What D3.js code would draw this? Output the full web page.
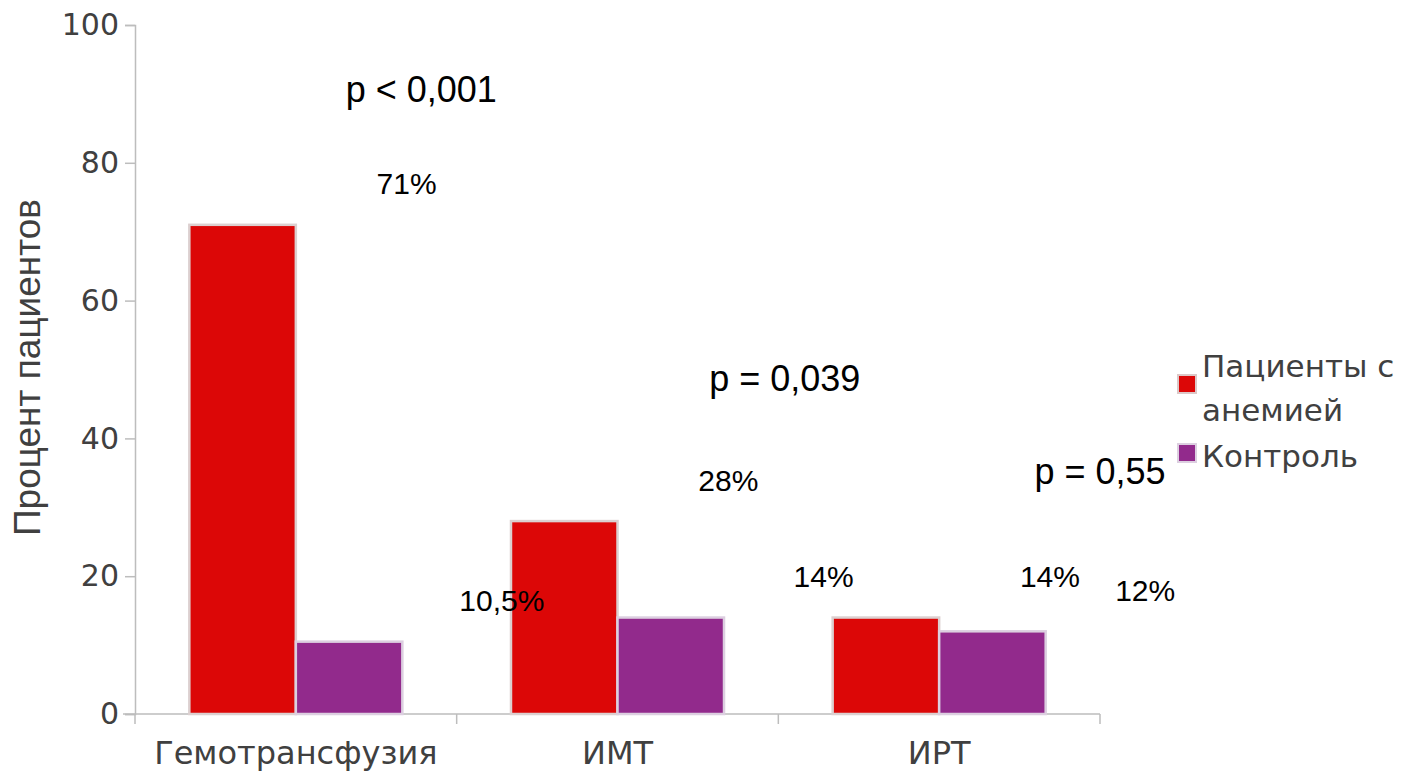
<!DOCTYPE html>
<html><head><meta charset="utf-8">
<script src="https://cdn.jsdelivr.net/npm/d3@7"></script>
<style>body{margin:0;background:#fff}svg{display:block}</style>
</head><body>
<script>
const categories = ["Гемотрансфузия", "ИМТ", "ИРТ"];
const seriesNames = ["Пациенты с анемией", "Контроль"];
const anemia = [71, 28, 14];
const control = [10.5, 14, 12];
const anemiaLabels = ["71%", "28%", "14%"];
const controlLabels = ["10,5%", "14%", "12%"];
const pLabels = ["p < 0,001", "p = 0,039", "p = 0,55"];
const pLabelLevels = [90.7, 48.8, 35.3];
const yTicks = [0, 20, 40, 60, 80, 100];
const colors = ["#dc0707", "#922a8c"];

const W = 1405, H = 771;
const svg = d3.select("body").append("svg").attr("width", W).attr("height", H);

const x = d3.scaleBand().domain(categories).range([135, 1100]);
const xs = d3.scaleBand().domain([0, 1]).range([0, x.bandwidth()]).paddingOuter(0.51);
const y = d3.scaleLinear().domain([0, 100]).range([714, 25]);
const axisColor = "#bdbdbd";

// Y axis
const yAxis = svg.append("g").attr("transform", "translate(135,0)")
  .call(d3.axisLeft(y).tickValues(yTicks).tickSize(10).tickPadding(6));
yAxis.select(".domain").attr("stroke", axisColor).attr("stroke-width", 1.5);
yAxis.selectAll(".tick line").attr("stroke", axisColor).attr("stroke-width", 1.5);
yAxis.selectAll(".tick text").attr("fill", "#404040")
  .style("font-family", "DejaVu Sans, Verdana, sans-serif").style("font-size", "30px");

// X axis
const xAxisG = svg.append("g").attr("transform", `translate(0,${y(0)})`);
xAxisG.append("line").attr("x1", 123).attr("x2", 1100).attr("y1", 0).attr("y2", 0)
  .attr("stroke", axisColor).attr("stroke-width", 1.5);
const bounds = categories.map(c => x(c)).concat([x(categories[2]) + x.bandwidth()]);
xAxisG.selectAll("line.tk").data(bounds).join("line").attr("class", "tk")
  .attr("x1", d => d).attr("x2", d => d).attr("y1", 0).attr("y2", 10)
  .attr("stroke", axisColor).attr("stroke-width", 1.5);
xAxisG.selectAll("text").data(categories).join("text")
  .attr("x", d => x(d) + x.bandwidth() / 2).attr("y", 50)
  .attr("text-anchor", "middle").attr("fill", "#404040")
  .style("font-family", "DejaVu Sans, Verdana, sans-serif").style("font-size", "32px")
  .text(d => d);

// Y title
svg.append("text").attr("transform", `translate(40,${(195 + 540) / 2}) rotate(-90)`)
  .attr("text-anchor", "middle").attr("fill", "#404040")
  .style("font-family", "Liberation Sans, Arial, sans-serif").style("font-size", "37px")
  .text("Процент пациентов");

// Bars
const rows = categories.map((c, i) => ({ c, vals: [anemia[i], control[i]], labs: [anemiaLabels[i], controlLabels[i]] }));
const g = svg.append("g");
rows.forEach(r => {
  r.vals.forEach((v, s) => {
    g.append("rect")
      .attr("x", x(r.c) + xs(s)).attr("width", xs.bandwidth())
      .attr("y", y(v)).attr("height", y(0) - y(v))
      .attr("fill", colors[s]).attr("stroke", s === 0 ? "#dcd0d0" : "#dccfe0").attr("stroke-width", 2.5);
  });
});

// value labels (offset right by half a band, above by ~6 units)
rows.forEach(r => {
  r.vals.forEach((v, s) => {
    svg.append("text")
      .attr("x", x(r.c) + xs(s) + xs.bandwidth() / 2 + x.bandwidth() * (s === 0 ? 0.51 : 0.475))
      .attr("y", y(v + 6)).attr("dy", "0.36em")
      .attr("text-anchor", "middle").attr("fill", "#000")
      .style("font-family", "Liberation Sans, Arial, sans-serif").style("font-size", "30px")
      .text(r.labs[s]);
  });
});

// p labels
const pOffsets = [0.39, 0.52, 0.5];
categories.forEach((c, i) => {
  svg.append("text")
    .attr("x", x(c) + x.bandwidth() / 2 + x.bandwidth() * pOffsets[i])
    .attr("y", y(pLabelLevels[i])).attr("dy", "0.36em")
    .attr("text-anchor", "middle").attr("fill", "#000")
    .style("font-family", "Liberation Sans, Arial, sans-serif").style("font-size", "36px")
    .text(pLabels[i]);
});

// Legend
const leg = svg.append("g").attr("transform", "translate(1178,0)");
const legFont = "DejaVu Sans, Verdana, sans-serif";
leg.append("rect").attr("x", 0).attr("y", 375).attr("width", 18).attr("height", 18)
  .attr("fill", colors[0]).attr("stroke", "#dcc8c8").attr("stroke-width", 2);
leg.append("rect").attr("x", 0).attr("y", 444).attr("width", 18).attr("height", 18)
  .attr("fill", colors[1]).attr("stroke", "#dccfe0").attr("stroke-width", 2);
const t1 = leg.append("text").attr("fill", "#404040").style("font-family", legFont).style("font-size", "31px");
t1.append("tspan").attr("x", 24).attr("y", 377).text("Пациенты с");
t1.append("tspan").attr("x", 24).attr("y", 421).text("анемией");
leg.append("text").attr("x", 24).attr("y", 467).attr("fill", "#404040")
  .style("font-family", legFont).style("font-size", "31px").text(seriesNames[1]);
</script>
</body></html>
